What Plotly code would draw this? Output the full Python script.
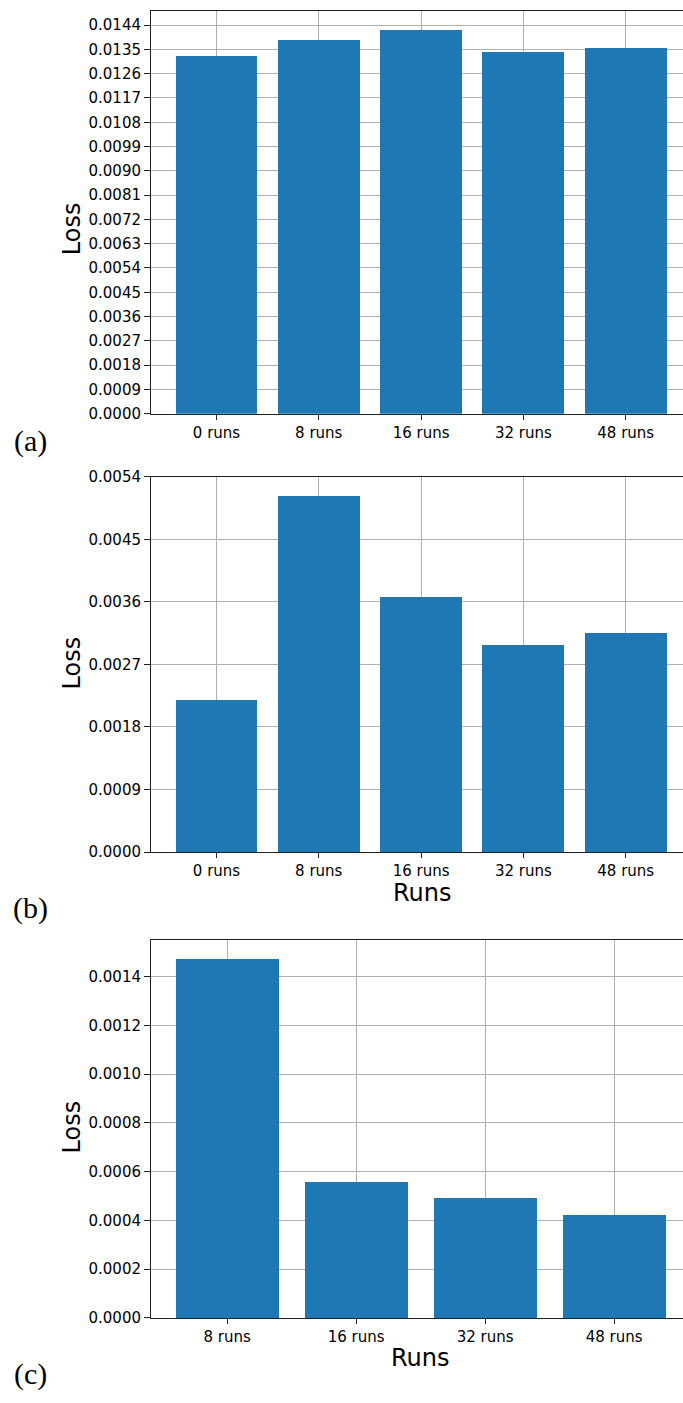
import plotly.graph_objects as go

# Loss per number of runs, three experiments
runs_a = ["0 runs", "8 runs", "16 runs", "32 runs", "48 runs"]
loss_a = [0.013242, 0.013863, 0.014228, 0.013388, 0.013570]

runs_b = ["0 runs", "8 runs", "16 runs", "32 runs", "48 runs"]
loss_b = [0.00219, 0.00512, 0.003669, 0.002987, 0.003157]

runs_c = ["8 runs", "16 runs", "32 runs", "48 runs"]
loss_c = [0.001474, 0.000558, 0.000493, 0.000424]

panel_tags = ["(a)", "(b)", "(c)"]

W, H = 683, 1403
BAR = "#1f77b4"
GRID = "#b0b0b0"
TICK_FONT = dict(family="DejaVu Sans", size=15, color="black")
TITLE_FONT = dict(family="DejaVu Sans", size=24, color="black")


def py(p):
    """pixel row -> paper fraction"""
    return 1 - p / H


def px(p):
    return p / W


fig = go.Figure()

panels = [
    # (categories, values, y-domain pixels, y range, dtick, x range)
    (runs_a, loss_a, (2, 410), [0, 0.014923], 0.0009, [-0.64, 4.56]),
    (runs_b, loss_b, (474, 854), [0, 0.0054], 0.0009, [-0.64, 4.56]),
    (runs_c, loss_c, (943, 1326), [0, 0.00155], 0.0002, [-0.59, 3.534]),
]

for i, (cats, vals, (top, bot), yr, dt, xr) in enumerate(panels, start=1):
    sfx = "" if i == 1 else str(i)
    fig.add_trace(go.Bar(
        x=list(range(len(cats))), y=vals, width=0.8,
        marker=dict(color=BAR, line=dict(width=0)),
        xaxis="x" + sfx, yaxis="y" + sfx, showlegend=False,
    ))
    fig.layout["xaxis" + sfx] = dict(
        domain=[px(151), 1], anchor="y" + sfx, range=xr,
        tickmode="array", tickvals=list(range(len(cats))), ticktext=cats,
        showgrid=True, gridcolor=GRID, gridwidth=1,
        showline=True, linecolor="#222", linewidth=1, mirror=True,
        ticks="outside", ticklen=5, tickcolor="#222",
        tickfont=TICK_FONT, zeroline=False,
    )
    fig.layout["yaxis" + sfx] = dict(
        domain=[py(bot), py(top)], anchor="x" + sfx, range=yr,
        tick0=0, dtick=dt, tickformat=".4f",
        showgrid=True, gridcolor=GRID, gridwidth=1,
        showline=True, linecolor="#222", linewidth=1, mirror=False,
        ticks="outside", ticklen=6, tickcolor="#222",
        tickfont=TICK_FONT, zeroline=False,
    )

annotations = []
# y-axis titles
for yc in (223, 663, 1133):
    annotations.append(dict(
        text="Loss", x=px(72), y=py(yc), xref="paper", yref="paper",
        showarrow=False, textangle=-90, font=TITLE_FONT,
        xanchor="center", yanchor="middle",
    ))
# x-axis titles for the lower two panels
for xc, yc in ((422, 895), (420, 1367)):
    annotations.append(dict(
        text="Runs", x=px(xc), y=py(yc), xref="paper", yref="paper",
        showarrow=False, font=TITLE_FONT, xanchor="center", yanchor="middle",
    ))
# panel tags
for tag, yc in zip(panel_tags, (438, 911, 1383)):
    annotations.append(dict(
        text=tag, x=px(30), y=py(yc), xref="paper", yref="paper",
        showarrow=False, font=dict(family="Liberation Serif", size=30, color="black"),
        xanchor="center", yanchor="middle",
    ))

fig.update_layout(
    width=W, height=H,
    margin=dict(l=0, r=0, t=0, b=0),
    paper_bgcolor="white", plot_bgcolor="white",
    bargap=0, annotations=annotations,
)

fig.write_html("out.html")
